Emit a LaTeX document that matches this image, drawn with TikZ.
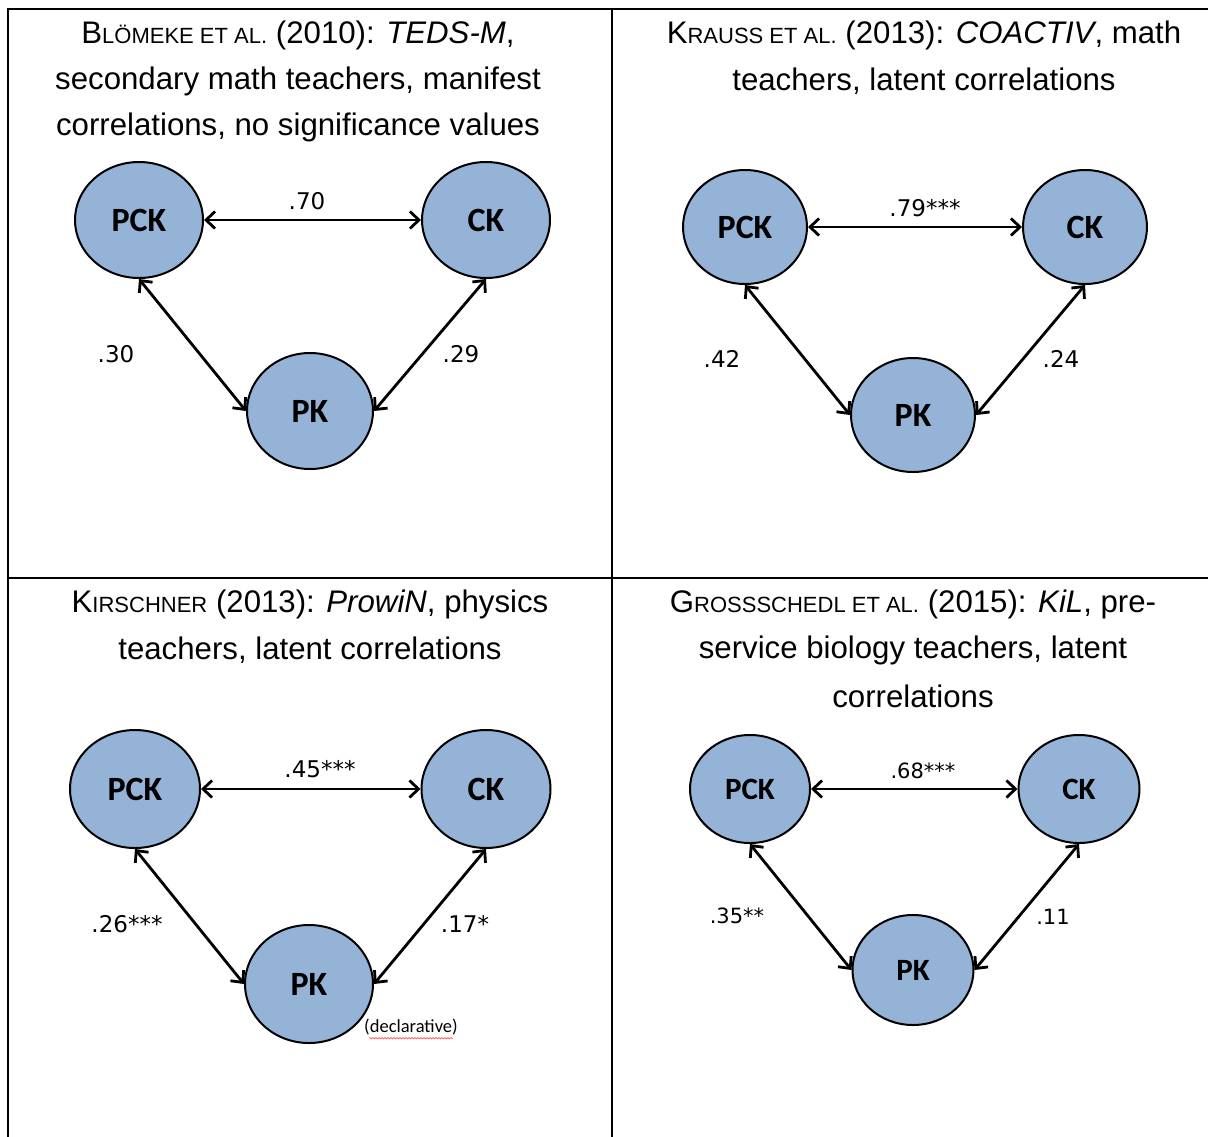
\documentclass[tikz,border=0pt]{standalone}
\usepackage{fontspec}
\setmainfont{Liberation Sans}
\newfontfamily\nodefont{Carlito}
\newfontfamily\numfont{DejaVu Sans}
\usetikzlibrary{shapes.geometric,arrows.meta,decorations.pathmorphing}
\newcommand\tsz{\fontsize{31.2}{46}\selectfont}
\newcommand\scp[1]{{\fontsize{22}{46}\selectfont #1}}
\tikzset{
  frame/.style={line width=2.6pt, line cap=rect},
  kn/.style={ellipse, draw=black, line width=2pt, fill=kblue, inner sep=0pt,
             font=\nodefont\bfseries\fontsize{34}{34}\selectfont},
  knS/.style={kn, font=\nodefont\bfseries\fontsize{31}{31}\selectfont},
  arr/.style={{Straight Barb[length=9pt,width=17pt]}-{Straight Barb[length=9pt,width=17pt]}, line width=2.8pt},
  num/.style={font=\numfont\fontsize{23}{23}\selectfont, inner sep=0pt},
  numS/.style={font=\numfont\fontsize{21}{21}\selectfont, inner sep=0pt},
  ttl/.style={align=center, font=\tsz, inner sep=0pt, anchor=center}
}
\definecolor{kblue}{HTML}{95B3D7}
\begin{document}
\begin{tikzpicture}[x=1pt,y=-1pt]
\useasboundingbox (0,0) rectangle (1208,1136);
% frame
\coordinate (fTL) at (8,9);
\coordinate (fTR) at (1208,9);
\coordinate (fTM) at (612,9);
\coordinate (fBL) at (8,1136);
\coordinate (fBM) at (612,1136);
\coordinate (fML) at (8,578);
\coordinate (fMR) at (1208,578);
\draw[frame] (fTR) -- (fTL) -- (fBL);
\draw[frame] (fTM) -- (fBM);
\draw[frame] (fML) -- (fMR);

% ---------- Panel 1 ----------
\node[ttl] (t1a) at (298,35) {B\scp{LÖMEKE ET AL.} (2010): \textit{TEDS-M},};
\node[ttl] (t1b) at (298,81) {secondary math teachers, manifest};
\node[ttl] (t1c) at (298,127) {correlations, no significance values};
\node[kn, minimum width=128pt, minimum height=116pt] (pck1) at (139,220) {PCK};
\node[kn, minimum width=128pt, minimum height=116pt] (ck1) at (486,220) {CK};
\node[kn, minimum width=126pt, minimum height=116pt] (pk1) at (310,411) {PK};
\draw[arr] (pck1) -- (ck1);
\draw[arr] (pck1.south) -- (pk1.west);
\draw[arr] (ck1.south) -- (pk1.east);
\node[num] (l1a) at (307,201) {.70};
\node[num] (l1b) at (116,354) {.30};
\node[num] (l1c) at (461,354) {.29};

% ---------- Panel 2 ----------
\node[ttl] (t2a) at (924,35) {K\scp{RAUSS ET AL.} (2013): \textit{COACTIV}, math};
\node[ttl] (t2b) at (924,81) {teachers, latent correlations};
\node[kn, minimum width=124pt, minimum height=114pt] (pck2) at (745,227) {PCK};
\node[kn, minimum width=124pt, minimum height=114pt] (ck2) at (1085,227) {CK};
\node[kn, minimum width=124pt, minimum height=114pt] (pk2) at (913,415) {PK};
\draw[arr] (pck2) -- (ck2);
\draw[arr] (pck2.south) -- (pk2.west);
\draw[arr] (ck2.south) -- (pk2.east);
\node[num] (l2a) at (925,208) {.79***};
\node[num] (l2b) at (722,359) {.42};
\node[num] (l2c) at (1061,359) {.24};

% ---------- Panel 3 ----------
\node[ttl] (t3a) at (310,604) {K\scp{IRSCHNER} (2013): \textit{ProwiN}, physics};
\node[ttl] (t3b) at (310,650) {teachers, latent correlations};
\node[kn, minimum width=130pt, minimum height=118pt] (pck3) at (135,789) {PCK};
\node[kn, minimum width=129pt, minimum height=118pt] (ck3) at (486,789) {CK};
\node[kn, minimum width=128pt, minimum height=118pt] (pk3) at (309,984) {PK};
\draw[arr] (pck3) -- (ck3);
\draw[arr] (pck3.south) -- (pk3.west);
\draw[arr] (ck3.south) -- (pk3.east);
\node[num] (l3a) at (320,769) {.45***};
\node[num] (l3b) at (127,924) {.26***};
\node[num] (l3c) at (465,924) {.17*};
\node[font=\nodefont\fontsize{18.5}{18.5}\selectfont, inner sep=0pt] (dec) at (411,1027) {(declarative)};
\draw[red!80, line width=0.5pt, decorate, decoration={snake, amplitude=0.8pt, segment length=3pt}]
  ([xshift=5pt,yshift=-3pt]dec.south west) -- ([xshift=-5pt,yshift=-3pt]dec.south east);

% ---------- Panel 4 ----------
\node[ttl] (t4a) at (913,604) {G\scp{ROSSSCHEDL ET AL.} (2015): \textit{KiL}, pre-};
\node[ttl] (t4b) at (913,650) {service biology teachers, latent};
\node[ttl] (t4c) at (913,696) {correlations};
\node[knS, minimum width=120pt, minimum height=108pt] (pck4) at (750,789) {PCK};
\node[knS, minimum width=121pt, minimum height=108pt] (ck4) at (1079,789) {CK};
\node[knS, minimum width=121pt, minimum height=110pt] (pk4) at (913,970) {PK};
\draw[arr] (pck4) -- (ck4);
\draw[arr] (pck4.south) -- (pk4.west);
\draw[arr] (ck4.south) -- (pk4.east);
\node[numS] (l4a) at (923,771) {.68***};
\node[numS] (l4b) at (737,916) {.35**};
\node[numS] (l4c) at (1053,917) {.11};
\end{tikzpicture}
\end{document}
